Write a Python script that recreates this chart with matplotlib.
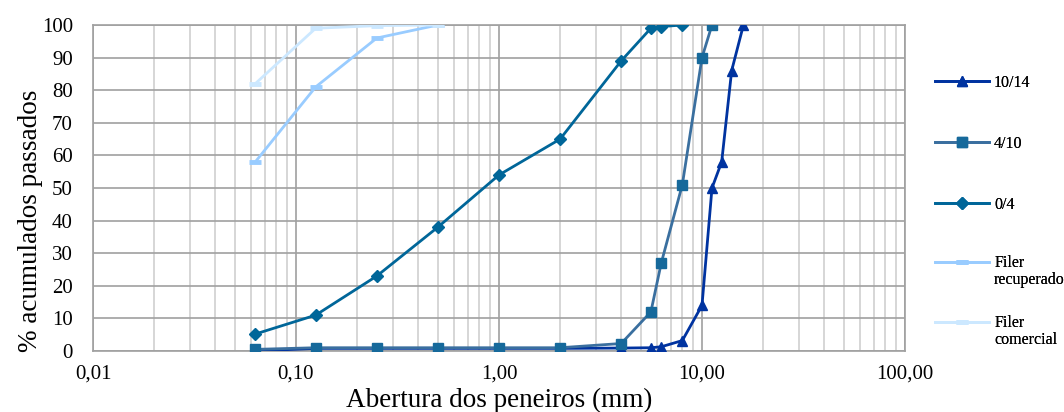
import matplotlib
matplotlib.use("Agg")
import numpy as np
import matplotlib.pyplot as plt
from matplotlib.ticker import FixedLocator, FixedFormatter, LogLocator, NullFormatter
from matplotlib.legend_handler import HandlerLine2D

plt.rcParams['font.family'] = ['Liberation Serif', 'DejaVu Serif']

sieves_1014 = [0.063, 0.125, 0.25, 0.5, 1, 2, 4, 5.6, 6.3, 8, 10, 11.2, 12.5, 14, 16]
pass_1014 = [0.0, 0.8, 0.8, 0.8, 0.8, 0.8, 0.9, 1.0, 1.3, 3.2, 14, 50, 58, 86, 100]

sieves_410 = [0.063, 0.125, 0.25, 0.5, 1, 2, 4, 5.6, 6.3, 8, 10, 11.2]
pass_410 = [0.5, 1.0, 1.0, 1.0, 1.0, 1.0, 2.3, 12, 27, 51, 90, 100]

sieves_04 = [0.063, 0.125, 0.25, 0.5, 1, 2, 4, 5.6, 6.3, 8]
pass_04 = [5.2, 11, 23, 38, 54, 65, 89, 99, 99.5, 100]

sieves_rec = [0.063, 0.125, 0.25, 0.5]
pass_rec = [58, 81, 96, 100]

sieves_com = [0.063, 0.125, 0.25, 0.5]
pass_com = [82, 99, 99.8, 100]

xticks = [0.01, 0.1, 1, 10, 100]
xticklabels = ["0,01", "0,10", "1,00", "10,00", "100,00"]
yticks = [0, 10, 20, 30, 40, 50, 60, 70, 80, 90, 100]

W, H = 1064, 412
fig = plt.figure(figsize=(W / 100, H / 100), dpi=100)
ax = fig.add_axes([93 / W, 1 - 351 / H, (905 - 93) / W, (351 - 25) / H])

l1 = ax.plot(sieves_1014, pass_1014, color='#0033a0', lw=2.0, marker='^', ms=7, label='10/14', zorder=3)[0]
l2 = ax.plot(sieves_410, pass_410, color='#3a6f9f', lw=2.0, marker='s', ms=6.5,
             mfc='#16699b', mec='#16699b', label='4/10', zorder=4)[0]
l3 = ax.plot(sieves_04, pass_04, color='#006699', lw=2.0, marker='D', ms=6.5, label='0/4', zorder=5)[0]
l4 = ax.plot(sieves_rec, pass_rec, color='#99ccff', lw=2.0, marker='_', ms=8, mew=3.5,
             label='Filer\nrecuperado', zorder=6)[0]
l5 = ax.plot(sieves_com, pass_com, color='#cce8ff', lw=2.0, marker='_', ms=8, mew=3.5,
             label='Filer\ncomercial', zorder=6)[0]

ax.set_xscale('log')
ax.set_xlim(0.01, 100)
ax.set_ylim(0, 100)
ax.xaxis.set_major_locator(FixedLocator(xticks))
ax.xaxis.set_major_formatter(FixedFormatter(xticklabels))
ax.xaxis.set_minor_locator(LogLocator(base=10, subs=range(2, 10)))
ax.xaxis.set_minor_formatter(NullFormatter())
ax.set_yticks(yticks)

ax.grid(which='major', axis='both', color='#a0a0a0', lw=1.2)
ax.grid(which='minor', axis='x', color='#cfcfcf', lw=1.2)
ax.set_axisbelow(True)
for s in ax.spines.values():
    s.set_color('#a0a0a0')
    s.set_linewidth(1.2)
ax.tick_params(which='both', length=0, labelsize=15, colors='black')
ax.tick_params(axis='x', pad=9.5)
ax.tick_params(axis='y', pad=14.5)

ax.set_xlabel('Abertura dos peneiros (mm)', fontsize=19.5)
ax.xaxis.set_label_coords(0.5, -0.112)
ax.set_ylabel('% acumulados passados', fontsize=19.5)
ax.yaxis.set_label_coords(-0.062, 0.40)


class RaisedHandler(HandlerLine2D):
    def __init__(self, dy=0.0, **kw):
        super().__init__(**kw)
        self.dy = dy

    def create_artists(self, legend, orig_handle, xdescent, ydescent, width, height,
                       fontsize, trans):
        arts = super().create_artists(legend, orig_handle, xdescent, ydescent, width,
                                      height, fontsize, trans)
        for a in arts:
            a.set_ydata(np.asarray(a.get_ydata()) + self.dy)
        return arts


leg_fs = 11.5
entries = [(l1, 81, 0.0), (l2, 142, 0.0), (l3, 203, 0.0),
           (l4, 263, 0.6 * leg_fs), (l5, 323, 0.6 * leg_fs)]
for line, ypix, dy in entries:
    yoff = 6 if dy == 0 else 8
    lg = fig.legend([line], [line.get_label()], loc='upper left',
                    bbox_to_anchor=(935 / W, 1 - (ypix - yoff) / H), frameon=False,
                    fontsize=leg_fs, handlelength=3.4, handletextpad=0.3,
                    borderpad=0, borderaxespad=0,
                    handler_map={line: RaisedHandler(dy=dy)})
    for t in lg.get_texts():
        t.set_linespacing(1.05)
    fig.add_artist(lg)

fig.savefig('out.png', dpi=100)
